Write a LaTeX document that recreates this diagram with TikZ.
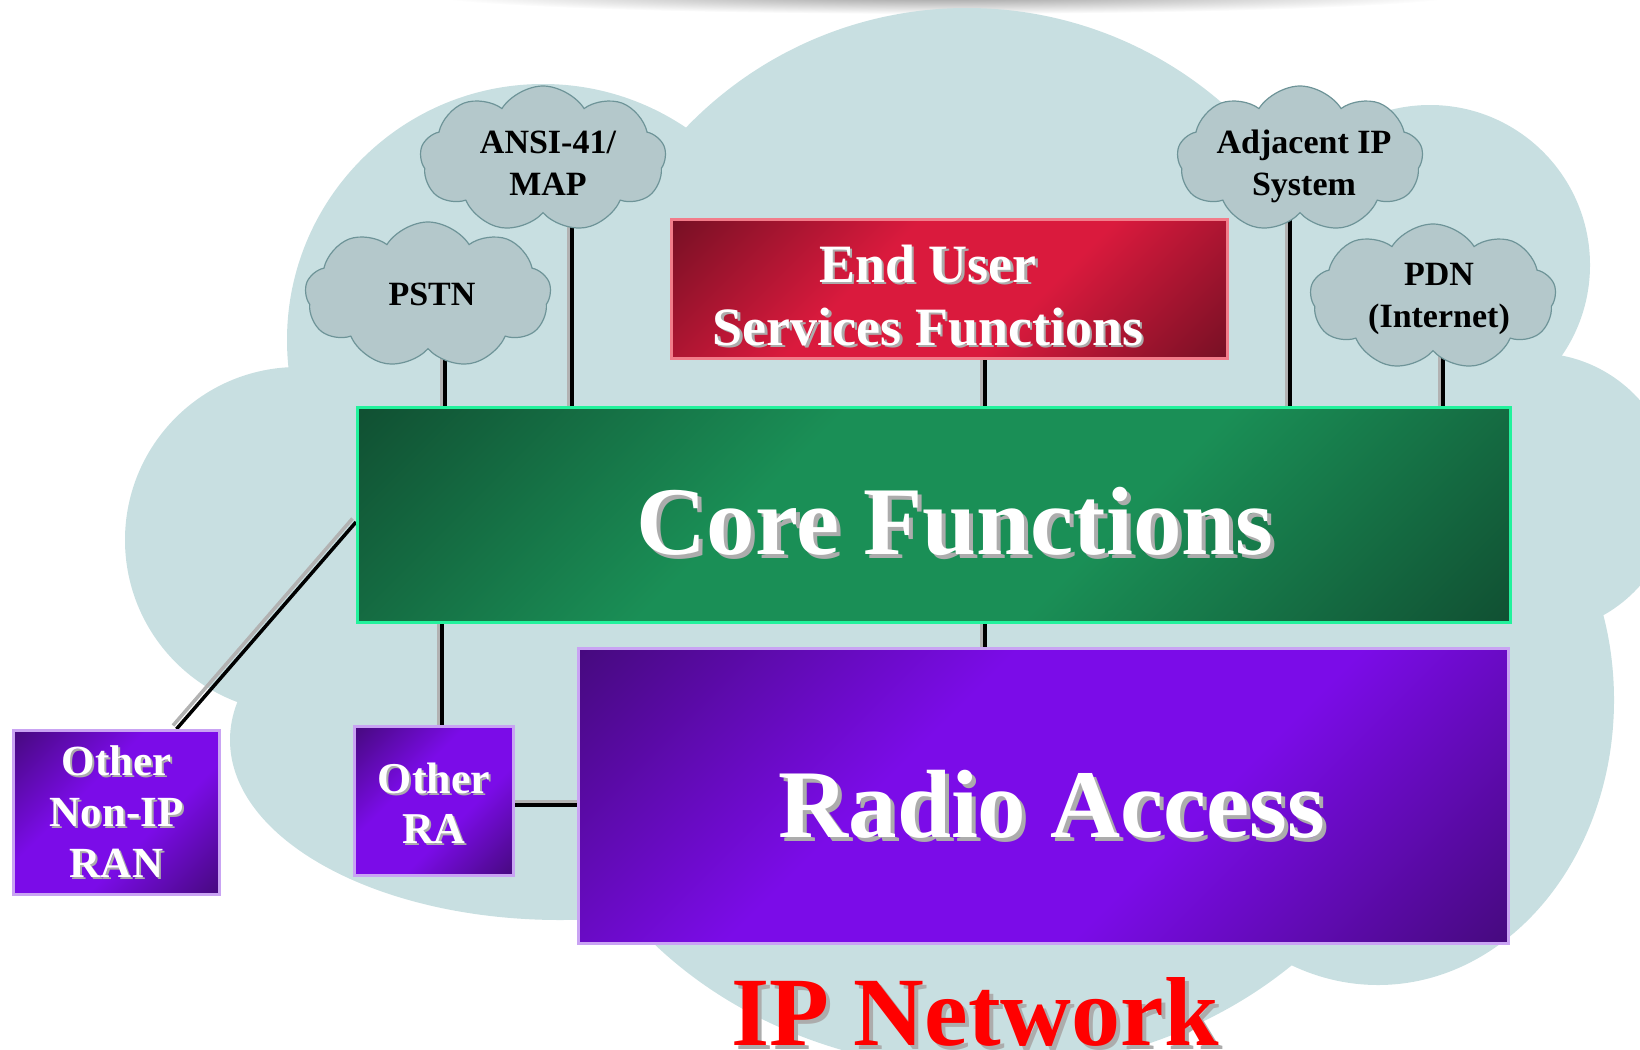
\documentclass[tikz,border=0pt]{standalone}
\usepackage{fontspec}
\setmainfont{Liberation Serif}
\usetikzlibrary{shapes.symbols}
\pgfdeclarelayer{back}
\pgfsetlayers{back,main}
\definecolor{sky}{HTML}{C8DFE1}
\definecolor{puff}{HTML}{B4C8CB}
\definecolor{puffline}{HTML}{6E9498}
\definecolor{coredark}{HTML}{0B2C1E}
\definecolor{corelight}{HTML}{1A8F56}
\definecolor{coreline}{HTML}{22F29C}
\definecolor{userdark}{HTML}{3E0A16}
\definecolor{userlight}{HTML}{DA1A3D}
\definecolor{userline}{HTML}{F27C8A}
\definecolor{radiodark}{HTML}{280842}
\definecolor{radiolight}{HTML}{7B0CE8}
\definecolor{radioline}{HTML}{C9A3F3}
\definecolor{netred}{HTML}{FF0000}
\pgfdeclareverticalshading{coreshade}{100bp}{color(0bp)=(coredark); color(40bp)=(corelight); color(60bp)=(corelight); color(100bp)=(coredark)}
\pgfdeclareverticalshading{usershade}{100bp}{color(0bp)=(userdark); color(40bp)=(userlight); color(60bp)=(userlight); color(100bp)=(userdark)}
\pgfdeclareverticalshading{radioshade}{100bp}{color(0bp)=(radiodark); color(40bp)=(radiolight); color(60bp)=(radiolight); color(100bp)=(radiodark)}
\newcommand{\shadowed}[2]{\makebox[0pt][l]{\hspace{#1}\raisebox{-#1}{\color{gray!65}#2}}#2}

\begin{document}
\begin{tikzpicture}[x=1pt,y=-1pt]
 \useasboundingbox (0,0) rectangle (1640,1049);
 \tikzstyle{panel} = [rectangle,line width=3pt,inner sep=0pt]
 \tikzstyle{puffy} = [cloud,cloud puffs=9,cloud puff arc=115,aspect=1.7,fill=puff,draw=puffline,line width=1.2pt,minimum width=246,minimum height=146,inner sep=0pt]
 \tikzstyle{puftext} = [font=\fontsize{34}{42}\selectfont\bfseries,align=center,anchor=base]
 \tikzstyle{whitetext} = [text=white,align=center,anchor=base]
 \tikzstyle{link} = [line width=3.5pt,preaction={draw,gray!60,line width=3.5pt,transform canvas={xshift=-3.5pt,yshift=3.5pt}}]
 \begin{pgfonlayer}{back}
  \shade[inner color=gray!85,outer color=white] (945,-6) ellipse [x radius=520,y radius=20];
  \fill[sky] (967,398) circle [radius=390];
  \fill[sky] (543,340) circle [radius=256];
  \fill[sky] (298,540) circle [radius=173];
  \fill[sky] (560,740) ellipse [x radius=330,y radius=180];
  \fill[sky] (985,700) ellipse [x radius=440,y radius=370];
  \fill[sky] (1378,700) ellipse [x radius=236,y radius=285];
  \fill[sky] (1535,493) circle [radius=140];
  \fill[sky] (1430,265) circle [radius=160];
 \end{pgfonlayer}
 \node[panel,draw=coreline,shading=coreshade,shading angle=45,minimum width=1153,minimum height=215] (core) at (934,515) {};
 \node[panel,draw=userline,shading=usershade,shading angle=45,minimum width=556,minimum height=139] (user) at (949.5,289) {};
 \node[panel,draw=radioline,shading=radioshade,shading angle=45,minimum width=930,minimum height=295] (radio) at (1043.5,796) {};
 \node[panel,draw=radioline,shading=radioshade,shading angle=45,minimum width=159,minimum height=149] (ra) at (434,801) {};
 \node[panel,draw=radioline,shading=radioshade,shading angle=45,minimum width=206,minimum height=164] (ran) at (116.5,812.5) {};
 \node[puffy] (pstn) at (428,295) {};
 \node[puffy] (ansi) at (543,159) {};
 \node[puffy] (adj) at (1300,159) {};
 \node[puffy] (pdn) at (1433,297) {};
 \begin{pgfonlayer}{back}
  \draw[link] ([xshift=17]pstn.center) |- (core.center);
  \draw[link] ([xshift=29]ansi.center) |- (core.center);
  \draw[link] ([xshift=-10]adj.center) |- (core.center);
  \draw[link] ([xshift=10]pdn.center) |- (core.center);
  \draw[link] ([xshift=35.5]user.center) |- (core.center);
  \draw[link] ([xshift=-58.5]radio.center) |- (core.center);
  \draw[link] ([xshift=8]ra.center) |- (core.center);
  \draw[link] ([yshift=-4]ra.center) -| (radio.center);
  \draw[link] ([xshift=60]ran.north) -- ([yshift=-7]core.west);
 \end{pgfonlayer}
 \node[puftext] (pstntext) at (432,305) {PSTN};
 \node[puftext] (ansitext) at (548,195) {ANSI-41/\\MAP};
 \node[puftext] (adjtext) at (1304,195) {Adjacent IP\\System};
 \node[puftext] (pdntext) at (1439,327) {PDN\\(Internet)};
 \node[whitetext,font=\fontsize{54}{63}\selectfont\bfseries] (usertext) at (928,345) {\shadowed{2.5pt}{End User}\\\shadowed{2.5pt}{Services Functions}};
 \node[whitetext,font=\fontsize{97}{100}\selectfont\bfseries] (coretext) at (955,554) {\shadowed{4pt}{Core Functions}};
 \node[whitetext,font=\fontsize{97}{100}\selectfont\bfseries] (radiotext) at (1052,837) {\shadowed{4pt}{Radio Access}};
 \node[whitetext,font=\fontsize{44}{50}\selectfont\bfseries] (ratext) at (434,843) {\shadowed{2pt}{Other}\\\shadowed{2pt}{RA}};
 \node[whitetext,font=\fontsize{43}{51}\selectfont\bfseries] (rantext) at (116.5,877) {\shadowed{2pt}{Other}\\\shadowed{2pt}{Non-IP}\\\shadowed{2pt}{RAN}};
 \node[font=\fontsize{98}{100}\selectfont\bfseries,text=netred,anchor=base] (nettext) at (975,1045) {\shadowed{4pt}{IP Network}};
\end{tikzpicture}
\end{document}
